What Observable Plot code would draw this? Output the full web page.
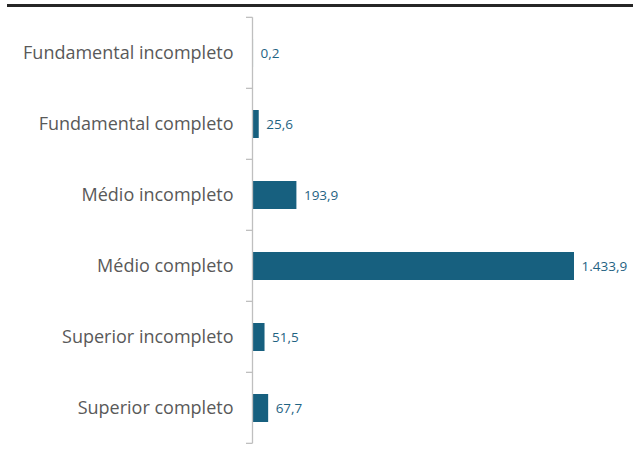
<!DOCTYPE html>
<html><head><meta charset="utf-8">
<script src="https://cdn.jsdelivr.net/npm/d3@7"></script>
<script src="https://cdn.jsdelivr.net/npm/@observablehq/plot@0.6"></script>
<style>
body{margin:0;background:#fff;width:633px;height:454px;overflow:hidden;}
#topline{margin:4px 0 0 7px;height:3px;background:#262626;}
svg{display:block;}
</style></head><body>
<div id="topline"></div>
<div id="chart"></div>
<script>
const categories = ["Fundamental incompleto","Fundamental completo","Médio incompleto","Médio completo","Superior incompleto","Superior completo"];
const values = [0.2, 25.6, 193.9, 1433.9, 51.5, 67.7];
const data = categories.map((c,i)=>({cat:c, v:values[i]}));
const fmt = d3.formatLocale({decimal:",",thousands:".",grouping:[3],currency:["R$",""]}).format(",.1f");
const barColor = "#17607f";
const pad = 0.61;
const boundaryTicks = (index, scales, values, dims) => {
  const y = scales.y, x = scales.x;
  const step = y(categories[1]) - y(categories[0]);
  const bw = step*(1-pad), off = (step-bw)/2;
  const x0 = x(0);
  const g = d3.create("svg:g").attr("stroke","#bfbfbf").attr("stroke-width",1.3).attr("fill","none");
  const ys = categories.map(c=>y(c)-off);
  ys.push(y(categories[categories.length-1])+bw+off);
  g.append("line").attr("x1",x0-0.5).attr("x2",x0-0.5).attr("y1",ys[0]).attr("y2",ys[ys.length-1]);
  for (const yy of ys) g.append("line").attr("x1",x0-7).attr("x2",x0-0.5).attr("y1",yy).attr("y2",yy);
  return g.node();
};
const chart = Plot.plot({
  width:633, height:447,
  marginLeft:253, marginRight:59, marginTop:8, marginBottom:8,
  style:{fontFamily:"'Open Sans', sans-serif", background:"#fff"},
  x:{domain:[0,1433.9], axis:null},
  y:{domain:categories, paddingInner:pad, paddingOuter:pad/2, label:null},
  marks:[
    Plot.axisY({tickSize:0, tickPadding:20, fontSize:18, color:"#595959", label:null}),
    Plot.barX(data,{x:"v", y:"cat", fill:barColor, insetLeft:0}),
    Plot.text(data,{x:"v", y:"cat", text:d=>fmt(d.v), textAnchor:"start", dx:7, fill:"#1f6383", fontSize:13.5}),
    boundaryTicks
  ]
});
document.getElementById("chart").append(chart);
</script>
</body></html>
